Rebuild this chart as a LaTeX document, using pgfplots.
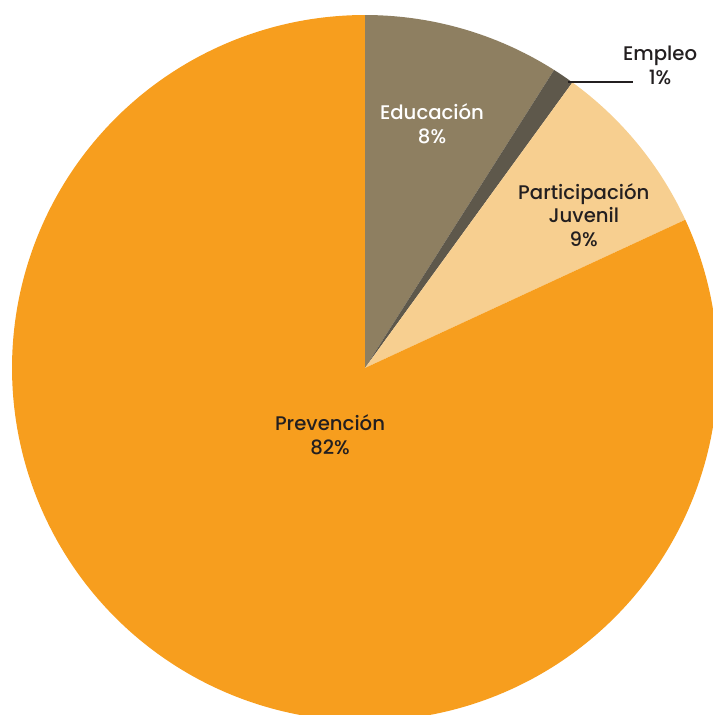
\documentclass[border=0pt]{standalone}
\usepackage{pgfplots}
\pgfplotsset{compat=1.18}
\usepackage{pgfplotstable}
\usepackage{fontspec}
\setmainfont{Poppins}[UprightFont=* Medium, BoldFont=* SemiBold]
\definecolor{cEdu}{HTML}{8E7F61}
\definecolor{cEmp}{HTML}{5E584B}
\definecolor{cPar}{HTML}{F7CF90}
\definecolor{cPrev}{HTML}{F79E1E}
\definecolor{cTxt}{HTML}{231F20}
\pgfplotstableread{
name value
Educacion 9.0
Empleo 1.0
Participacion 8.1
Prevencion 81.9
}\piedata
\begin{document}
\begin{tikzpicture}
\pgfplotstablegetelem{0}{value}\of\piedata \pgfmathsetmacro\vA{\pgfplotsretval}
\pgfplotstablegetelem{1}{value}\of\piedata \pgfmathsetmacro\vB{\pgfplotsretval}
\pgfplotstablegetelem{2}{value}\of\piedata \pgfmathsetmacro\vC{\pgfplotsretval}
\pgfplotstablegetelem{3}{value}\of\piedata \pgfmathsetmacro\vD{\pgfplotsretval}
\pgfmathsetmacro\aA{90}
\pgfmathsetmacro\aB{\aA-3.6*\vA}
\pgfmathsetmacro\aC{\aB-3.6*\vB}
\pgfmathsetmacro\aD{\aC-3.6*\vC}
\pgfmathsetmacro\aE{\aD-3.6*\vD}
\begin{axis}[
  width=7.13cm, height=7.15cm, scale only axis,
  xmin=-1.034, xmax=0.986, ymin=-0.983, ymax=1.0425,
  hide axis, clip=true,
  font=\fontsize{5.6}{6.8}\selectfont,
]
\addplot[draw=none, fill=cEdu, domain=\aB:\aA, samples=60, variable=\t] ({cos(\t)},{sin(\t)}) -- (axis cs:0,0) -- cycle;
\addplot[draw=none, fill=cEmp, domain=\aC:\aB, samples=10, variable=\t] ({cos(\t)},{sin(\t)}) -- (axis cs:0,0) -- cycle;
\addplot[draw=none, fill=cPar, domain=\aD:\aC, samples=60, variable=\t] ({cos(\t)},{sin(\t)}) -- (axis cs:0,0) -- cycle;
\addplot[draw=none, fill=cPrev, domain=\aE:\aD, samples=300, variable=\t] ({cos(\t)},{sin(\t)}) -- (axis cs:0,0) -- cycle;
\draw[cTxt, line width=0.55pt] (axis cs:0.575,0.810) -- (axis cs:0.759,0.810);
\node[white, align=center] at (axis cs:0.190,0.691) {Educación\\8\%};
\node[cTxt, align=center] at (axis cs:0.620,0.433) {Participación\\Juvenil\\9\%};
\node[cTxt, align=center] at (axis cs:-0.099,-0.190) {Prevención\\82\%};
\node[cTxt, align=center] at (axis cs:0.836,0.858) {Empleo\\1\%};
\end{axis}
\path[use as bounding box] (current axis.south west) rectangle (current axis.north east);
\end{tikzpicture}
\end{document}
